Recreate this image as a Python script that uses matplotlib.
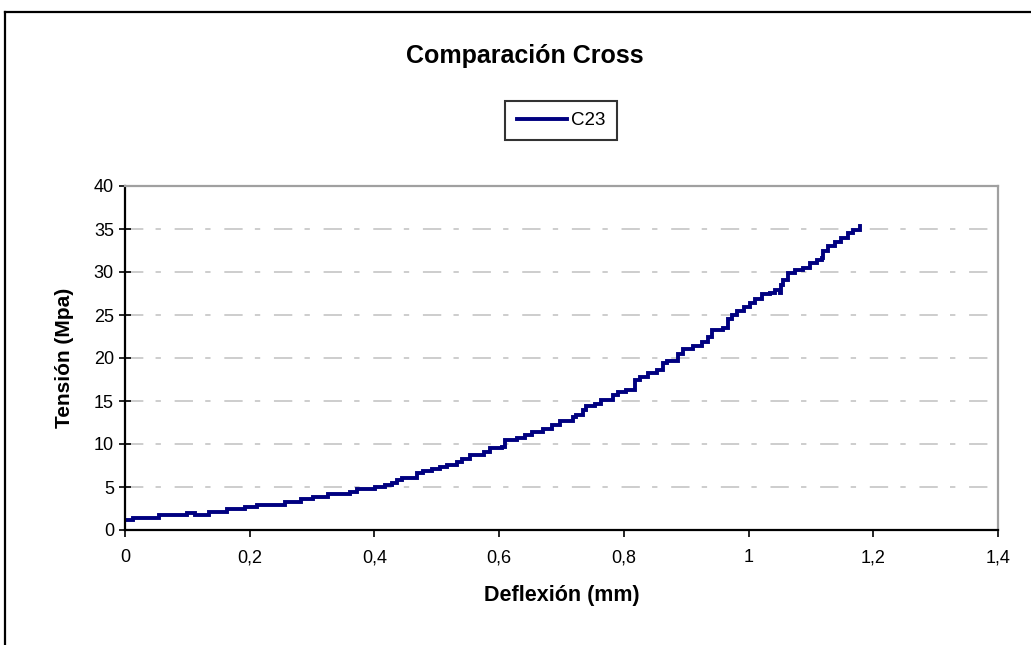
import numpy as np
import matplotlib
matplotlib.use("Agg")
import matplotlib.pyplot as plt
from matplotlib.lines import Line2D

# C23 curve (deflexion mm, tension MPa)
defl = [0.002, 0.013, 0.055, 0.100, 0.112, 0.135, 0.164, 0.192, 0.211, 0.257,
        0.283, 0.302, 0.326, 0.361, 0.372, 0.401, 0.417, 0.428, 0.436, 0.444,
        0.468, 0.478, 0.492, 0.505, 0.516, 0.532, 0.540, 0.553, 0.575, 0.585,
        0.604, 0.609, 0.628, 0.641, 0.652, 0.671, 0.684, 0.698, 0.719, 0.724,
        0.735, 0.740, 0.754, 0.764, 0.783, 0.791, 0.804, 0.818, 0.826, 0.839,
        0.853, 0.863, 0.869, 0.887, 0.895, 0.911, 0.925, 0.935, 0.941, 0.959,
        0.967, 0.973, 0.981, 0.992, 1.002, 1.010, 1.021, 1.034, 1.042, 1.050,
        1.052, 1.056, 1.064, 1.074, 1.088, 1.098, 1.109, 1.117, 1.120, 1.128,
        1.139, 1.149, 1.160, 1.168, 1.178]
tension = [1.16, 1.43, 1.70, 1.94, 1.70, 2.13, 2.48, 2.67, 2.90, 3.26,
           3.56, 3.80, 4.15, 4.46, 4.73, 4.97, 5.20, 5.50, 5.80, 6.10,
           6.60, 6.86, 7.10, 7.36, 7.56, 7.95, 8.30, 8.70, 9.10, 9.50,
           9.70, 10.5, 10.66, 11.0, 11.35, 11.8, 12.2, 12.7, 13.1, 13.4,
           13.95, 14.4, 14.65, 15.1, 15.7, 16.1, 16.3, 17.4, 17.75, 18.2,
           18.6, 19.4, 19.7, 20.5, 21.0, 21.4, 21.9, 22.5, 23.25, 23.45,
           24.5, 25.0, 25.5, 25.9, 26.4, 26.9, 27.4, 27.6, 27.9, 27.6,
           28.5, 29.1, 29.9, 30.2, 30.5, 31.0, 31.4, 31.6, 32.4, 33.0,
           33.5, 34.0, 34.5, 34.9, 35.3]

xticks = [0, 0.2, 0.4, 0.6, 0.8, 1.0, 1.2, 1.4]
xtick_labels = ["0", "0,2", "0,4", "0,6", "0,8", "1", "1,2", "1,4"]
yticks = [0, 5, 10, 15, 20, 25, 30, 35, 40]

plt.rcParams['font.family'] = ['Liberation Sans', 'DejaVu Sans']

W, H = 1031, 645
fig = plt.figure(figsize=(W / 100, H / 100), dpi=100)
ax = fig.add_axes([125 / W, 1 - 530 / H, (998 - 125) / W, (530 - 186) / H])

ax.plot(defl, tension, color='#000080', lw=2.8, drawstyle='steps-post',
        label='C23', solid_joinstyle='miter')

ax.set_xlim(0, 1.4)
ax.set_ylim(0, 40)
ax.set_xticks(xticks)
ax.set_xticklabels(xtick_labels)
ax.set_yticks(yticks)

for y in yticks[1:-1]:
    ax.axhline(y, color='#c0c0c0', lw=1.1, dashes=(12, 8, 3.5, 9), zorder=0)

for s in ['left', 'bottom']:
    ax.spines[s].set_color('black')
    ax.spines[s].set_linewidth(1.6)
for s in ['top', 'right']:
    ax.spines[s].set_color('#a0a0a0')
    ax.spines[s].set_linewidth(1.6)

ax.tick_params(axis='y', direction='inout', length=8, width=1.2, labelsize=13, pad=4)
ax.tick_params(axis='x', direction='out', length=5, width=1.2, labelsize=13, pad=9)

ax.set_xlabel('Deflexión (mm)', fontsize=15.5, fontweight='bold', labelpad=13)
ax.set_ylabel('Tensión (Mpa)', fontsize=15, fontweight='bold', labelpad=14)

fig.text(525 / W, 1 - 56 / H, 'Comparación Cross', fontsize=18, fontweight='bold',
         ha='center', va='center')

leg = fig.legend(loc='center', bbox_to_anchor=(561 / W, 1 - 120.5 / H),
                 fontsize=13.5, frameon=True, fancybox=False, handlelength=2.7,
                 handletextpad=0.2, borderpad=0.6)
leg.get_frame().set_edgecolor('black')
leg.get_frame().set_linewidth(1.5)

# outer chart frame (left and top edges visible)
fig.add_artist(Line2D([5 / W, 5 / W], [0, 1 - 12 / H], color='black', lw=1.6,
                      transform=fig.transFigure))
fig.add_artist(Line2D([5 / W, 1], [1 - 12 / H, 1 - 12 / H], color='black', lw=1.6,
                      transform=fig.transFigure))

fig.savefig('out.png', dpi=100)
